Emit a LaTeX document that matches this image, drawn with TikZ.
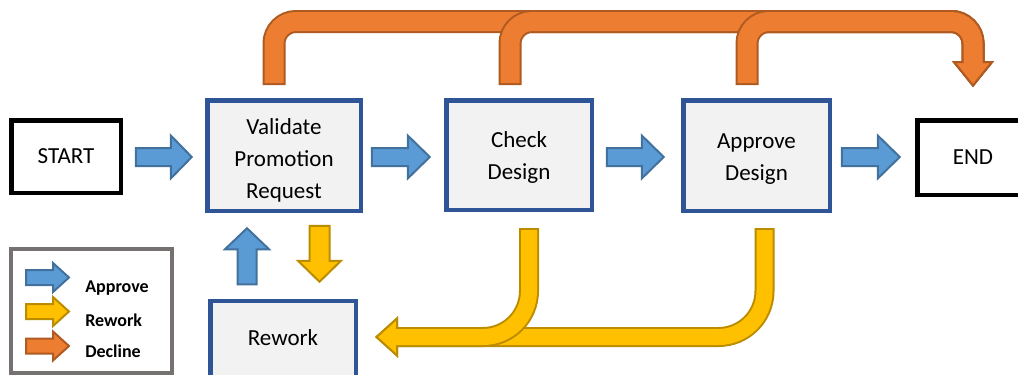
\documentclass[tikz,border=0pt]{standalone}
\usepackage{fontspec}
\setmainfont{Carlito}
\usetikzlibrary{calc}
\definecolor{boxblue}{HTML}{2F5597}
\definecolor{boxfill}{HTML}{F2F2F2}
\definecolor{blueF}{HTML}{5B9BD5}
\definecolor{blueD}{HTML}{41719C}
\definecolor{orangeF}{HTML}{ED7D31}
\definecolor{orangeD}{HTML}{AE5A21}
\definecolor{yellowF}{HTML}{FFC000}
\definecolor{yellowD}{HTML}{BC8C00}
\definecolor{legendgray}{HTML}{767171}
\newcommand\dmainfont{\fontsize{17.25pt}{24pt}\selectfont}
\newcommand\dlegfont{\fontsize{13.5pt}{16pt}\selectfont\bfseries}
% straight block arrow: fill, outline, tip, angle, length, head length, shaft half, head half
\newcommand\sarrow[8]{%
  \begin{scope}[shift={#3}, rotate=#4]
    \filldraw[fill=#1, draw=#2, line width=1.5pt, line join=miter]
      (0,0) -- (-#6,#8) -- (-#6,#7) -- (-#5,#7) -- (-#5,-#7) -- (-#6,-#7) -- (-#6,-#8) -- cycle;
  \end{scope}}
\begin{document}
\begin{tikzpicture}[x=0.75pt, y=-0.75pt,
  procbox/.style={draw=boxblue, fill=boxfill, line width=3.375pt, align=center,
    font=\dmainfont, text=black, inner sep=0pt},
  termbox/.style={draw=black, fill=white, line width=3.375pt, font=\dmainfont,
    text=black, inner sep=0pt},
  legendbox/.style={draw=legendgray, fill=white, line width=3pt, inner sep=0pt},
  legendtext/.style={font=\dlegfont, text=black, anchor=base west, inner sep=0pt},
  odark/.style={draw=orangeD, line width=17.25pt, rounded corners=16.5pt, shorten <=-1.5pt},
  olight/.style={draw=orangeF, line width=14.25pt, rounded corners=16.5pt, shorten >=-1.5pt},
  oheadst/.style={fill=orangeF, draw=orangeD, line width=1.5pt, line join=miter},
  ydark/.style={draw=yellowD, line width=15pt, rounded corners=34.5pt, shorten <=-1.5pt},
  ylight/.style={draw=yellowF, line width=12pt, rounded corners=34.5pt, shorten >=-1.5pt},
  yheadst/.style={fill=yellowF, draw=yellowD, line width=1.5pt, line join=miter}]
\useasboundingbox (0,0) rectangle (1018,375);
\fill[white] (0,0) rectangle (1018,375);

% boxes
\node[termbox, minimum width=82.125pt, minimum height=54.375pt] (start) at (66,156.5) {START};
\node[procbox, minimum width=115.125pt, minimum height=82.875pt] (validate) at (284,155.5)
  {\rule{0pt}{19.5pt}Validate\\Promotion\\Request};
\node[procbox, minimum width=109.125pt, minimum height=82.125pt] (check) at (519,155)
  {\rule{0pt}{15.5pt}Check\\Design};
\node[procbox, minimum width=109.875pt, minimum height=82.875pt] (approve) at (756.5,155.5)
  {\rule{0pt}{16.2pt}Approve\\Design};
\node[termbox, minimum width=83.625pt, minimum height=55.875pt] (end) at (973,157.5) {END};
\node[procbox, minimum width=109.125pt, minimum height=58.875pt] (rework) at (283,340)
  {Rework\rule[-3pt]{0pt}{3pt}};

% legend
\node[legendbox, minimum width=120.75pt, minimum height=93pt] (legend) at (91.5,311) {};
\sarrow{blueF}{blueD}{(69,277.5)}{0}{43}{16}{7.5}{14.5}
\sarrow{yellowF}{yellowD}{(69,311.5)}{0}{43}{16}{7.5}{14.5}
\sarrow{orangeF}{orangeD}{(69,346)}{0}{43}{16}{7.5}{14.5}
\node[legendtext] (lapprove) at (85,292) {Approve};
\node[legendtext] (lrework) at (85,326) {Rework};
\node[legendtext] (ldecline) at (85,357) {Decline};

% approve (blue) arrows
\sarrow{blueF}{blueD}{($(validate.west)+(-13.25,1.5)$)}{0}{56}{21}{9}{21.5}
\sarrow{blueF}{blueD}{($(check.west)+(-14.25,2)$)}{0}{58}{22}{9}{21.5}
\sarrow{blueF}{blueD}{($(approve.west)+(-17.25,1.5)$)}{0}{57}{22}{9}{21.5}
\sarrow{blueF}{blueD}{($(end.west)+(-15.25,-0.5)$)}{0}{58}{22}{9}{21.5}
\sarrow{blueF}{blueD}{($(validate.south)+(-37,15.25)$)}{90}{56}{21}{9.5}{22}

% rework (yellow) arrow validate -> rework
\sarrow{yellowF}{yellowD}{($(rework.north)+(36.5,-16.75)$)}{-90}{56}{21}{10}{21.5}

% decline (orange) arrows to END
\coordinate (od1) at (274,83);
\coordinate (od2) at (510,83);
\coordinate (od3) at (747,83);
\coordinate (ohb) at (973,62);
\coordinate (otip) at (973,85.5);
\foreach \src/\cx in {od1/274, od2/510, od3/747}{
  \draw[odark] (\src) -- (\cx,21.5) -- (973,21.5) -- (ohb);
  \filldraw[oheadst] (otip) -- (954,62) -- (992,62) -- cycle;
  \draw[olight] (\src) -- (\cx,21.5) -- (973,21.5) -- (ohb);
}

% rework (yellow) arrows back to Rework
\coordinate (yd1) at (764.5,230);
\coordinate (yd2) at (529,230);
\coordinate (yhb) at (397,337);
\coordinate (ytip) at (376.5,337);
\foreach \src/\cx in {yd1/764.5, yd2/529}{
  \draw[ydark] (\src) -- (\cx,337) -- (yhb);
  \filldraw[yheadst] (ytip) -- (397,318.5) -- (397,355.5) -- cycle;
  \draw[ylight] (\src) -- (\cx,337) -- (yhb);
}
\end{tikzpicture}
\end{document}
